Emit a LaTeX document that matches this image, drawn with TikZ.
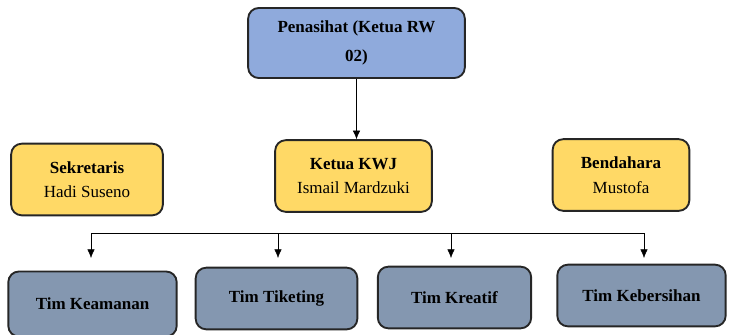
\documentclass[tikz,border=0pt]{standalone}
\usepackage{fontspec}
\setmainfont{Liberation Serif}
\usetikzlibrary{arrows.meta}
\definecolor{penblue}{HTML}{8FAADC}
\definecolor{kwjyellow}{HTML}{FFD966}
\definecolor{timgray}{HTML}{8497B0}
\begin{document}
\begin{tikzpicture}[
  x=0.03cm, y=-0.03cm,
  box/.style={draw=black!85, line width=1.6pt, rounded corners=9pt, align=center,
    inner sep=0pt, font=\fontsize{14.5}{21}\selectfont},
  pbox/.style={box, fill=penblue, minimum width=6.5cm, minimum height=2.1cm},
  ybox/.style={box, fill=kwjyellow, minimum height=2.15cm},
  tbox/.style={box, fill=timgray, minimum height=1.85cm},
  arr/.style={thin, draw=black, -{Latex[length=2.6mm,width=2.2mm]}}
]
  \useasboundingbox (0,0) rectangle (729,334);

  % Penasihat
  \node[pbox] (pen) at (356.5,43) {\textbf{Penasihat (Ketua RW}\\[4pt]\textbf{02)}};

  % Pengurus inti
  \node[ybox, minimum width=4.55cm] (sek) at (87,179.5) {\textbf{Sekretaris}\\Hadi Suseno};
  \node[ybox, minimum width=4.7cm] (ketua) at (353.5,176) {\textbf{Ketua KWJ}\\Ismail Mardzuki};
  \node[ybox, minimum width=4.1cm] (bend) at (621,175) {\textbf{Bendahara}\\Mustofa};

  \draw[arr] (pen.south) -- (pen.south |- ketua.north);

  % Tim
  \node[tbox, minimum width=5.05cm, minimum height=1.95cm] (keam) at (92.5,304) {\textbf{Tim Keamanan}};
  \node[tbox, minimum width=4.85cm] (tiket) at (276.5,298.5) {\textbf{Tim Tiketing}};
  \node[tbox, minimum width=4.6cm] (kreatif) at (454.5,297.5) {\textbf{Tim Kreatif}};
  \node[tbox, minimum width=5.05cm] (bersih) at (641.5,295.5) {\textbf{Tim Kebersihan}};

  % Garis pembagi
  \coordinate (a1) at (91,233);
  \coordinate (a2) at (278,233);
  \coordinate (a3) at (451,233);
  \coordinate (a4) at (644,233);
  \coordinate (tip) at (0,258);
  \draw[thin] (a1) -- (a4);
  \foreach \a in {a1,a2,a3,a4} {
    \draw[arr] (\a) -- (\a |- tip);
  }
\end{tikzpicture}
\end{document}
